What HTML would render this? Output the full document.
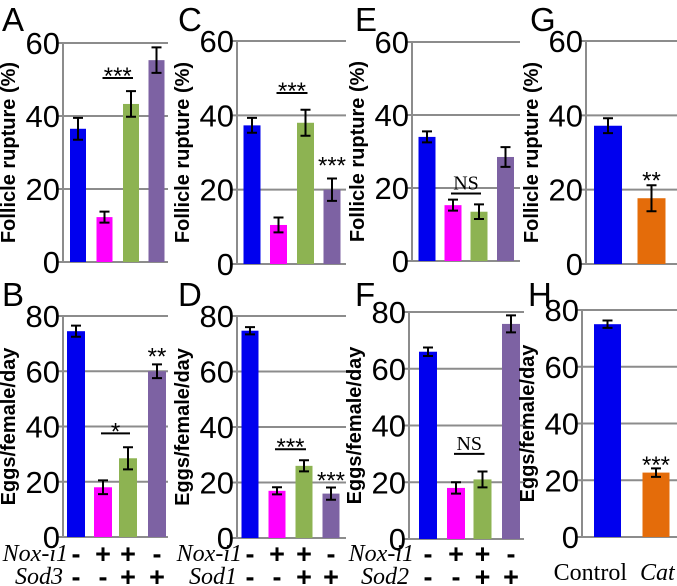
<!DOCTYPE html>
<html><head><meta charset="utf-8"><style>
body{margin:0;background:#fff;width:677px;height:586px;overflow:hidden}
svg{display:block}
.serif{font-family:"Liberation Serif",serif}
</style></head><body>
<svg id="fig" width="677" height="586" xmlns="http://www.w3.org/2000/svg" font-family="Liberation Sans, sans-serif"></svg>
<script>
const valuesA=[36.5,12.3,43.3,55.3], errA=[3,1.5,3.5,3.5];
const valuesC=[37.3,10.5,38,20], errC=[2,2,3.5,3];
const valuesE=[34,15.3,13.5,28.5], errE=[1.5,1.5,2,2.7];
const valuesG=[37.2,17.7], errG=[2,3.5];
const valuesB=[74.5,18,28.5,60], errB=[2,2.5,4,2.5];
const valuesD=[74.7,17,26,16], errD=[1.3,1.3,2,2.2];
const valuesF=[66,18,21,75.8], errF=[1.5,2,2.8,3];
const valuesH=[75,22.7], errH=[1.3,1.5];
const ticksTop=[0,20,40,60], ticksBot=[0,20,40,60,80];
const C4=['#0000ee','#ff00ff','#8db352','#7d62a3'], C2=['#0000ee','#e46c0a'];
const NS='http://www.w3.org/2000/svg', svg=document.getElementById('fig');
function mk(t,a,p){const e=document.createElementNS(NS,t);for(const k in a)e.setAttribute(k,a[k]);(p||svg).appendChild(e);return e;}
const panels=[
 {id:'A',v:valuesA,e:errA,col:C4,ax:63,top:43,zero:262,right:168,max:60,ticks:ticksTop,cx:[78,104.5,131,156.5],w:16,lx:2,ly:31,title:'Follicle rupture (%)',sig:[{a:1,b:2,val:50.4,t:'***'}]},
 {id:'C',v:valuesC,e:errC,col:C4,ax:237,top:41,zero:264,right:346,max:60,ticks:ticksTop,cx:[252,278.5,305.5,332],w:17,lx:178,ly:31,title:'Follicle rupture (%)',sig:[{a:1,b:2,val:46,t:'***'},{a:3,b:3,val:27,t:'***',noline:1}]},
 {id:'E',v:valuesE,e:errE,col:C4,ax:412,top:42,zero:261,right:520,max:60,ticks:ticksTop,cx:[427,453,479,505.5],w:17,lx:355,ly:31,title:'Follicle rupture (%)',sig:[{a:1,b:2,val:18.5,t:'NS',serif:1}]},
 {id:'G',v:valuesG,e:errG,col:C2,ax:586,top:41,zero:264,right:677,max:60,ticks:ticksTop,cx:[608,651.5],w:28,lx:530,ly:31,title:'Follicle rupture (%)',sig:[{a:1,b:1,val:23,t:'**',noline:1}]},
 {id:'B',v:valuesB,e:errB,col:C4,ax:63,top:316,zero:537,right:168,max:80,ticks:ticksBot,cx:[76,103,128,157],w:18,lx:2,ly:306,title:'Eggs/female/day',sig:[{a:1,b:2,val:37.5,t:'*'},{a:3,b:3,val:66,t:'**',noline:1}]},
 {id:'D',v:valuesD,e:errD,col:C4,ax:237,top:316,zero:538,right:346,max:80,ticks:ticksBot,cx:[250,277,304,331],w:17,lx:178,ly:306,title:'Eggs/female/day',sig:[{a:1,b:2,val:32,t:'***'},{a:3,b:3,val:21.5,t:'***',noline:1}]},
 {id:'F',v:valuesF,e:errF,col:C4,ax:409,top:312,zero:539,right:524,max:80,ticks:ticksBot,cx:[428,456,482.5,511],w:18,lx:355,ly:306,title:'Eggs/female/day',sig:[{a:1,b:2,val:30,t:'NS',serif:1}]},
 {id:'H',v:valuesH,e:errH,col:C2,ax:582,top:310,zero:537,right:677,max:80,ticks:ticksBot,cx:[607.5,656],w:27,lx:528,ly:306,title:'Eggs/female/day',sig:[{a:1,b:1,val:26,t:'***',noline:1}]}
];
panels.forEach(p=>{
 const g=mk('g',{});
 
 
 const y=v=>p.zero-(v/p.max)*(p.zero-p.top);
 const L=mk('text',{x:p.lx,y:p.ly,'font-size':33,fill:'#000'},g);L.textContent=p.id;
 
 
 p.ticks.forEach(t=>{
  const gl=mk('line',{x1:p.ax-6,x2:p.right,y1:y(t),y2:y(t),stroke:'#8c8c8c','stroke-width':2},g);
  
  
  const tl=mk('text',{x:p.ax-3,y:y(t)+11,'font-size':31,'text-anchor':'end',fill:'#000'},g);tl.textContent=t;
  
  
 });
 const axl=mk('line',{x1:p.ax,x2:p.ax,y1:p.top,y2:p.zero,stroke:'#8c8c8c','stroke-width':2},g);
 
 
 const tx=p.ax-48, ty=(p.top+p.zero)/2;
 const tt=mk('text',{x:tx,y:ty,'font-size':20,'font-weight':'bold','text-anchor':'middle',transform:`rotate(-90 ${tx} ${ty})`},g);tt.textContent=p.title;
 
 
 p.v.forEach((v,i)=>{
  const b=mk('rect',{x:p.cx[i]-p.w/2,y:y(v),width:p.w,height:p.zero-y(v),fill:p.col[i]},g);
  
  
  const hi=y(v+p.e[i]),lo=y(v-p.e[i]),c=p.cx[i];
  const eb=mk('path',{d:`M${c-5} ${hi}H${c+5}M${c} ${hi}V${lo}M${c-5} ${lo}H${c+5}`,stroke:'#000','stroke-width':2,fill:'none'},g);
  
  
 });
 p.sig.forEach(s=>{
  const yy=y(s.val);
  const x1=p.cx[s.a]-2,x2=p.cx[s.b]+2;
  if(!s.noline){const sl=mk('line',{x1:x1,x2:x2,y1:yy,y2:yy,stroke:'#000','stroke-width':2},g);
   
   }
  const st=mk('text',{x:(p.cx[s.a]+p.cx[s.b])/2,y:s.noline?yy:yy-4,'font-size':s.serif?20:24,'text-anchor':'middle'},g);
  if(s.serif)st.setAttribute('class','serif');
  st.textContent=s.t;
  if(!s.serif)st.setAttribute('dy','10');
  
  
 });
});
const rows=[{p:4,n1:'Nox-i1',n2:'Sod3'},{p:5,n1:'Nox-i1',n2:'Sod1'},{p:6,n1:'Nox-i1',n2:'Sod2'}];
const r1=['-','+','+','-'], r2=['-','-','+','+'];
rows.forEach(r=>{
 const p=panels[r.p];
 const a=mk('text',{x:p.ax+5,y:561,'font-size':24,'font-style':'italic','text-anchor':'end','class':'serif'});a.textContent=r.n1;
 
 
 const b=mk('text',{x:p.ax,y:584,'font-size':24,'font-style':'italic','text-anchor':'end','class':'serif'});b.textContent=r.n2;
 
 
 p.cx.forEach((c,i)=>{
  const s1=mk('text',{x:c,y:563,'font-size':27,'font-weight':'bold','text-anchor':'middle'});s1.textContent=r1[i];
  
  
  const s2=mk('text',{x:c,y:586,'font-size':27,'font-weight':'bold','text-anchor':'middle'});s2.textContent=r2[i];
  
  
 });
});
const ct=mk('text',{x:627,y:580,'font-size':24,'text-anchor':'end','class':'serif'});ct.textContent='Control';


const ca=mk('text',{x:640,y:580,'font-size':24,'font-style':'italic','text-anchor':'start','class':'serif'});ca.textContent='Cat';


</script>
</body></html>
